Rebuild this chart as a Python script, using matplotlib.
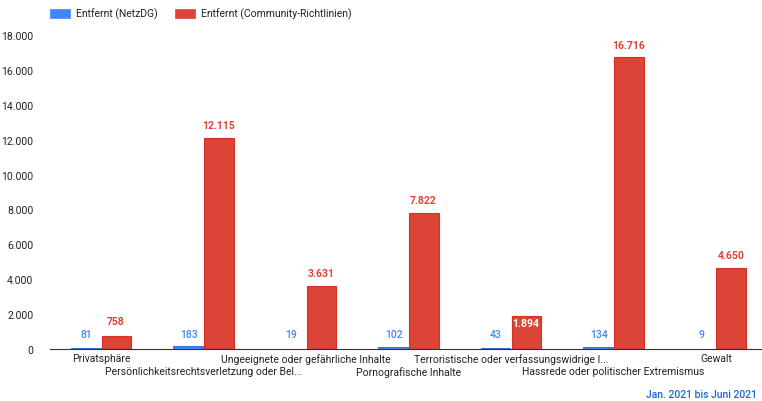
import matplotlib.pyplot as plt
import numpy as np
from matplotlib.patches import Rectangle
from matplotlib.ticker import FuncFormatter

plt.rcParams['font.family'] = ['Roboto', 'DejaVu Sans']

categories = ['Privatsphäre',
              'Persönlichkeitsrechtsverletzung oder Bel...',
              'Ungeeignete oder gefährliche Inhalte',
              'Pornografische Inhalte',
              'Terroristische oder verfassungswidrige I...',
              'Hassrede oder politischer Extremismus',
              'Gewalt']
netzdg = [81, 183, 19, 102, 43, 134, 9]
community = [758, 12115, 3631, 7822, 1894, 16716, 4650]
series_names = ['Entfernt (NetzDG)', 'Entfernt (Community-Richtlinien)']
yticks = [0, 2000, 4000, 6000, 8000, 10000, 12000, 14000, 16000, 18000]

BLUE = '#4285F4'
RED = '#DB4437'
RED_EDGE = '#D93025'


def de_fmt(v):
    return '{:,.0f}'.format(v).replace(',', '.')


fig = plt.figure(figsize=(7.62, 4.02), dpi=100)
ax = fig.add_axes([50 / 762, 1 - 350 / 402, 712 / 762, 314 / 402])

x = np.arange(len(categories))
w = 0.29
ax.bar(x - w / 2 - 0.005, netzdg, w, color=BLUE, edgecolor='#1a66d9', linewidth=0.6)
ax.bar(x + w / 2 + 0.005, community, w, color=RED, edgecolor=RED_EDGE, linewidth=0.8)

for xi, v in zip(x, netzdg):
    ax.text(xi - w / 2, 560, de_fmt(v), ha='center', va='bottom',
            color=BLUE, fontsize=7.5, fontweight='medium')
for i, (xi, v) in enumerate(zip(x, community)):
    if i == 4:
        # label sits inside the bar, it would hit the blue label otherwise
        ax.text(xi + w / 2, v - 120, de_fmt(v), ha='center', va='top',
                color='white', fontsize=7.5, fontweight='bold')
    else:
        off = 560 if v < 1000 else 450
        ax.text(xi + w / 2, v + off, de_fmt(v), ha='center', va='bottom',
                color=RED, fontsize=7.5, fontweight='bold')

ax.set_ylim(0, 18000)
ax.set_xlim(-0.5, 6.45)
ax.set_yticks(yticks)
ax.yaxis.set_major_formatter(FuncFormatter(lambda v, p: de_fmt(v)))
ax.tick_params(axis='y', length=0, labelsize=7.5, colors='#222222', pad=12)
ax.set_xticks(x)
ax.set_xticklabels([])
ax.tick_params(axis='x', length=0)
for s in ['top', 'right', 'left']:
    ax.spines[s].set_visible(False)
ax.spines['bottom'].set_color('#333333')
ax.spines['bottom'].set_linewidth(0.8)

for i, lab in enumerate(categories):
    yoff = -3 if i % 2 == 0 else -12
    ax.annotate(lab, xy=(i, 0), xycoords='data', xytext=(0, yoff),
                textcoords='offset points', ha='center', va='top',
                fontsize=7.5, color='#222222', annotation_clip=False)

# legend drawn by hand in figure pixels
for px, col, name in [(50, BLUE, series_names[0]), (175, RED, series_names[1])]:
    fig.patches.append(Rectangle((px / 762, 1 - 19 / 402), 20 / 762, 9 / 402,
                                 transform=fig.transFigure, facecolor=col,
                                 edgecolor=col, linewidth=0.5))
    fig.text((px + 26) / 762, 1 - 14.5 / 402, name, fontsize=7.5,
             color='#222222', va='center', ha='left')

fig.text(757 / 762, 1 - 395 / 402, 'Jan. 2021 bis Juni 2021', fontsize=7.5,
         color='#1a66d9', ha='right', va='center', fontweight='medium')

fig.savefig('out.png', dpi=100)
